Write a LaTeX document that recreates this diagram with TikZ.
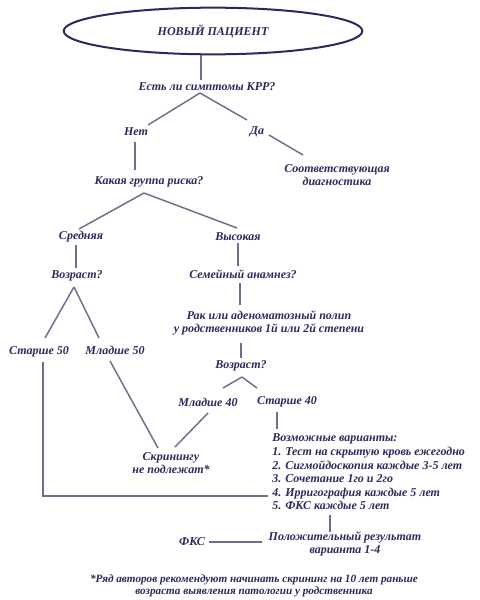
\documentclass[tikz,border=0pt]{standalone}
\usepackage{fontspec}
\setmainfont{Liberation Serif}
\usetikzlibrary{calc,shapes.geometric}
\definecolor{ink}{HTML}{2A2A5C}
\definecolor{wire}{HTML}{6E6E8E}
\tikzset{
  lbl/.style={inner sep=0pt, text=ink, font=\fontsize{9}{10.2}\selectfont\bfseries\itshape, align=center},
  small/.style={lbl, font=\fontsize{8.4}{9.2}\selectfont\bfseries\itshape},
  wireline/.style={draw=wire, line width=1.1pt},
}
\begin{document}
\begin{tikzpicture}[x=0.75pt,y=-0.75pt]
\useasboundingbox[fill=white] (0,0) rectangle (479,600);
\node[ellipse, draw=ink, line width=1.5pt, minimum width=224pt, minimum height=35pt, inner sep=0pt, text=ink, font=\fontsize{9}{10.2}\selectfont\bfseries\itshape] (n0) at (213,31) {НОВЫЙ ПАЦИЕНТ};
\node[lbl] (q1) at (207,87) {Есть ли симптомы КРР?};
\node[lbl] (no) at (136,132) {Нет};
\node[lbl] (yes) at (257,132) {Да};
\node[lbl] (diag) at (337,175) {Соответствующая\\диагностика};
\node[lbl] (q2) at (149,182) {Какая группа риска?};
\node[lbl] (mid) at (81,237) {Средняя};
\node[lbl] (high) at (238,237) {Высокая};
\node[lbl] (age1) at (77,276) {Возраст?};
\node[lbl] (fam) at (243,274) {Семейный анамнез?};
\node[lbl] (rel) at (269,323) {Рак или аденоматозный полип\\у родственников 1й или 2й степени};
\node[lbl] (age2) at (241,366) {Возраст?};
\node[lbl] (o50) at (39,352) {Старше 50};
\node[lbl] (y50) at (115,350) {Младше 50};
\node[lbl] (y40) at (208,402) {Младше 40};
\node[lbl] (o40) at (287,402) {Старше 40};
\node[lbl] (noscr) at (171,463) {Скринингу\\не подлежат*};
\node[lbl, align=left, anchor=west] (opts) at (272,472) {Возможные варианты:\\1. Тест на скрытую кровь ежегодно\\2. Сигмойдоскопия каждые 3-5 лет\\3. Сочетание 1го и 2го\\4. Ирригография каждые 5 лет\\5. ФКС каждые 5 лет};
\node[lbl] (pos) at (345,544) {Положительный результат\\варианта 1-4};
\node[lbl] (fks) at (192,542) {ФКС};
\node[small] (foot) at (254,586) {*Ряд авторов рекомендуют начинать скрининг на 10 лет раньше\\возраста выявления патологии у родственника};

\draw[wireline] ($(n0)+(-12,24)$) -- ($(q1)+(-6,-7)$);
\draw[wireline] ($(q1)+(-7,6)$) -- ($(no)+(12,-7)$);
\draw[wireline] ($(q1)+(-7,6)$) -- ($(yes)+(-10,-12)$);
\draw[wireline] ($(no)+(-1,10)$) -- ($(q2)+(-14,-12)$);
\draw[wireline] ($(yes)+(12,3)$) -- ($(diag)+(-34,-20)$);
\draw[wireline] ($(q2)+(-5,11)$) -- ($(mid)+(-2,-8)$);
\draw[wireline] ($(q2)+(-5,11)$) -- ($(high)+(-1,-9)$);
\draw[wireline] ($(mid)+(-5,8)$) -- ($(age1)+(-1,-8)$);
\draw[wireline] ($(high)+(0,6)$) -- ($(fam)+(-5,-8)$);
\draw[wireline] ($(fam)+(-3,9)$) -- ($(rel)+(-29,-18)$);
\draw[wireline] ($(rel)+(-28,20)$) -- ($(age2)+(0,-8)$);
\draw[wireline] ($(age1)+(-3,11)$) -- ($(o50)+(6,-14)$);
\draw[wireline] ($(age1)+(-3,11)$) -- ($(y50)+(-16,-12)$);
\draw[wireline] ($(age2)+(1,11)$) -- ($(y40)+(15,-14)$);
\draw[wireline] ($(age2)+(1,11)$) -- ($(o40)+(-30,-14)$);
\draw[wireline] ($(o50)+(4,10)$) |- ($(opts.west)+(-4,24)$);
\draw[wireline] ($(y50)+(-5,11)$) -- ($(noscr)+(-13,-15)$);
\draw[wireline] ($(y40)+(0,11)$) -- ($(noscr)+(4,-16)$);
\draw[wireline] ($(o40)+(-10,10)$) -- ($(opts.west)+(5,-43)$);
\draw[wireline] ($(opts.west)+(58,43)$) -- ($(pos)+(-15,-12)$);
\draw[wireline] ($(fks)+(17,0)$) -- ($(pos)+(-83,-2)$);
\end{tikzpicture}
\end{document}
